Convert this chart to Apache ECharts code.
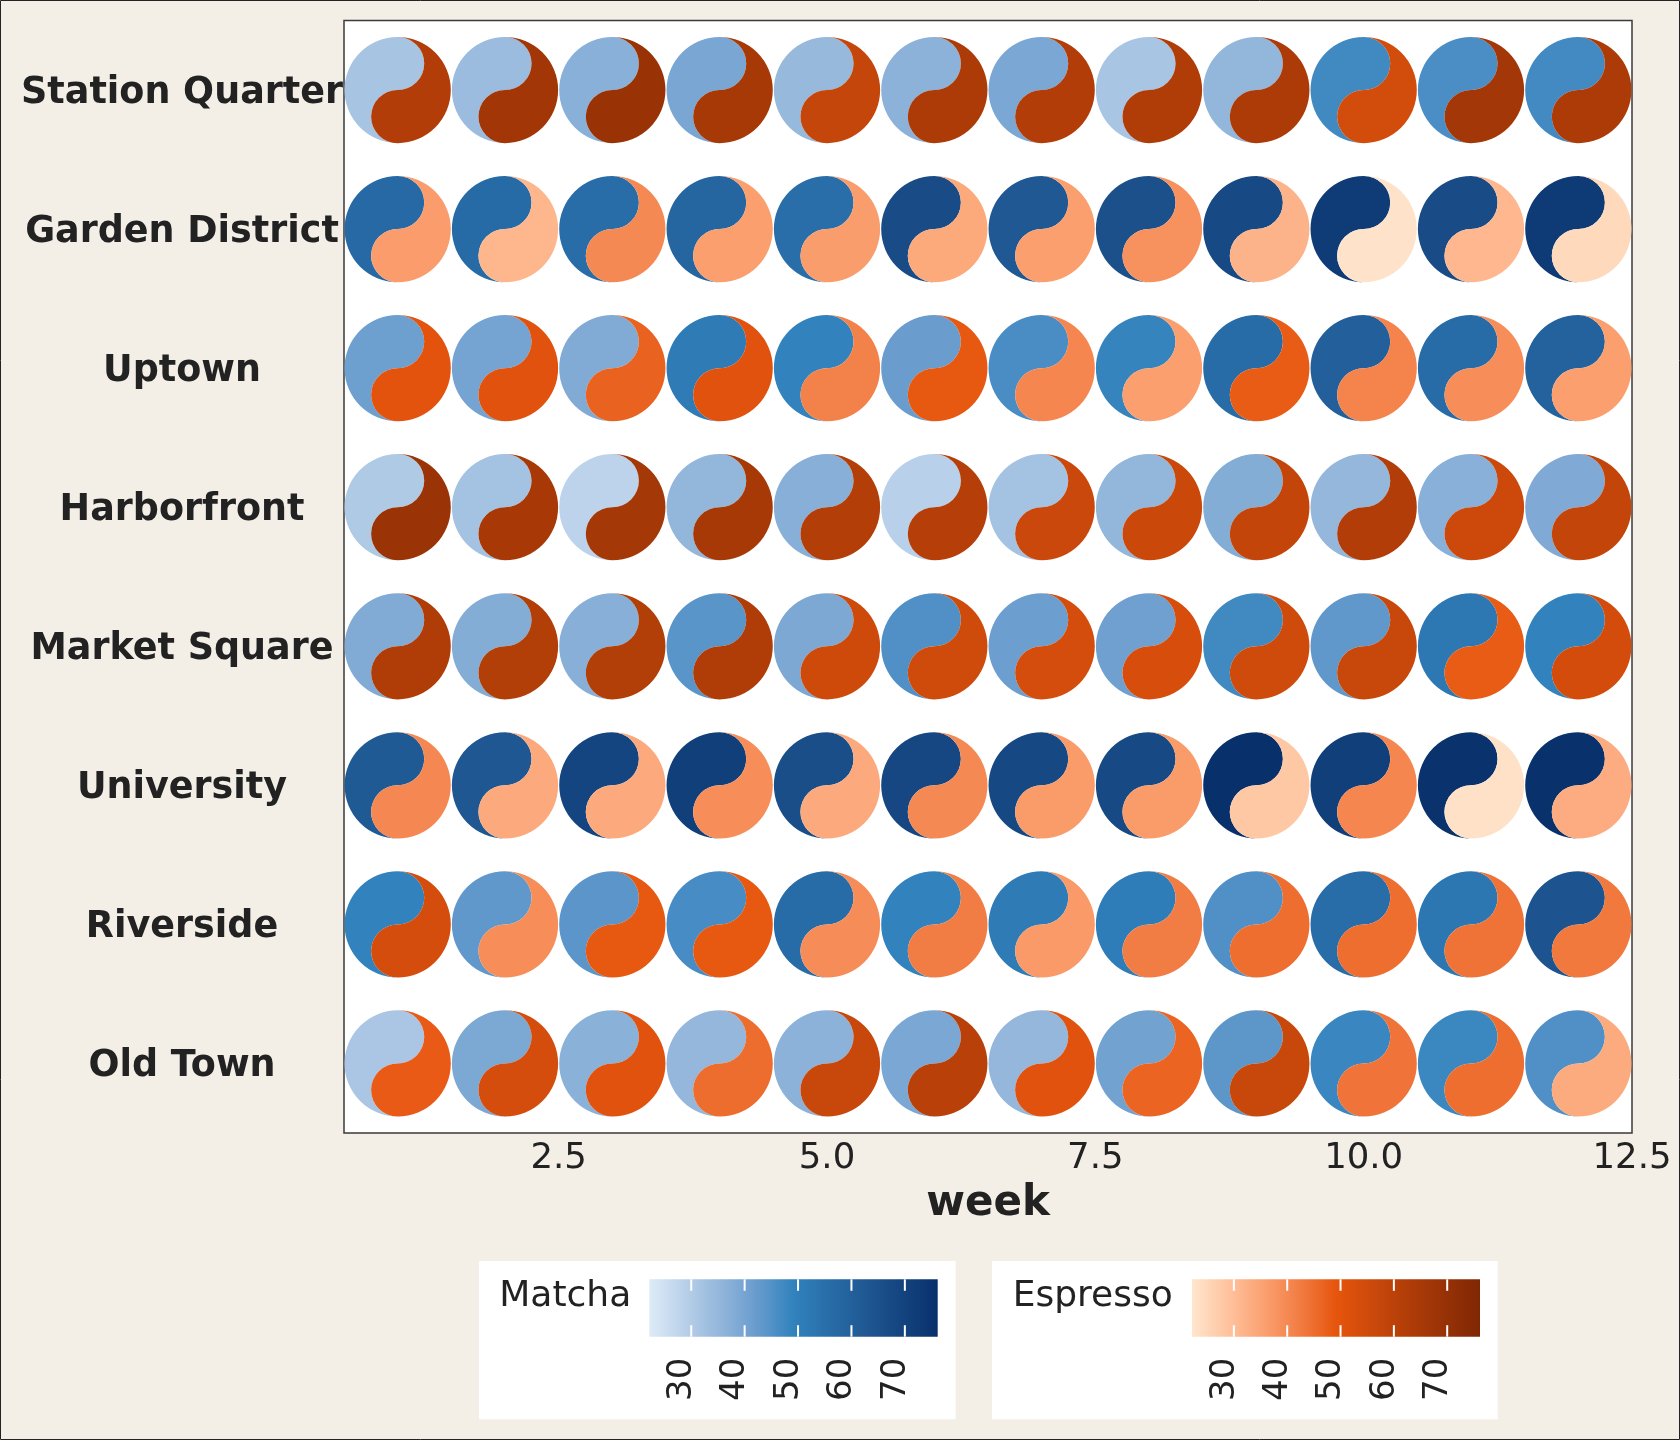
<!DOCTYPE html>
<html>
<head>
<meta charset="utf-8">
<script src="https://cdn.jsdelivr.net/npm/echarts@6/dist/echarts.min.js"></script>
<style>
html,body{margin:0;padding:0;background:#f3efe7;}
#c{width:1680px;height:1440px;}
</style>
</head>
<body>
<div id="c"></div>
<script>
// ---- data ----
const neighborhoods = ['Station Quarter','Garden District','Uptown','Harborfront','Market Square','University','Riverside','Old Town'];
const weeks = [1,2,3,4,5,6,7,8,9,10,11,12];
// Matcha value per neighborhood (rows) and week (columns)
const matcha = [
  [31.9,33.9,36.9,39.5,34.7,36.4,39.4,31.6,35.3,47.3,45.9,46.9],
  [57.1,56.4,55.8,58.4,55.5,66.6,62.7,65.3,67.6,72.2,66.6,72.9],
  [41.4,40.0,38.3,51.5,49.0,41.9,46.1,48.7,56.1,60.0,56.1,59.4],
  [30.5,32.3,28.1,35.3,37.2,28.9,32.3,35.3,37.8,35.2,36.9,38.4],
  [38.3,37.8,37.2,44.0,39.1,45.3,41.6,41.1,47.3,43.3,52.5,49.0],
  [62.0,63.0,69.2,71.2,66.0,68.3,68.0,67.6,76.0,71.2,75.2,75.7],
  [49.3,43.1,43.9,46.4,56.1,49.0,51.5,50.8,45.3,55.8,53.0,64.0],
  [31.3,39.0,36.7,35.2,36.3,39.4,35.2,40.6,43.6,48.0,47.9,45.3]
];
// Espresso value per neighborhood (rows) and week (columns)
const espresso = [
  [62.5,66.7,69.0,65.4,57.8,64.0,62.5,63.0,64.0,54.3,66.4,64.0],
  [36.4,31.4,40.0,35.9,36.2,34.0,35.9,38.3,32.0,22.7,31.2,24.7],
  [50.0,50.7,46.9,50.7,41.3,48.6,40.5,35.9,48.0,41.0,39.0,35.9],
  [68.8,65.2,65.9,65.4,62.2,61.4,56.4,56.2,57.9,62.5,56.0,57.9],
  [62.8,62.3,62.3,62.8,55.4,55.0,53.7,53.0,55.0,57.0,48.0,54.0],
  [40.2,33.8,33.8,39.0,33.8,40.0,36.6,36.6,27.9,40.5,23.2,33.3],
  [53.7,39.0,48.6,48.6,39.2,42.2,36.8,42.2,44.8,44.8,43.9,43.0],
  [48.2,53.7,50.7,45.0,57.0,60.6,50.7,46.5,57.0,43.7,44.8,33.6]
];
const xTicks = [2.5, 5, 7.5, 10, 12.5];
const legendTicks = [30, 40, 50, 60, 70];
const limits = [22.15, 76.15];
// low -> mid -> high gradients, evenly spaced stops (mid colour in the middle)
const blues = ['#deebf7', '#b8d0e9', '#91b5da', '#679bcd', '#3182bd', '#286da8', '#1f5893', '#14447f', '#08306b'];
const oranges = ['#fee6ce', '#ffc39e', '#fba070', '#f27c43', '#e6550d', '#cc490b', '#b13d08', '#983206', '#7f2704'];

const FONT = 'DejaVu Sans';
const TXT = '#222222';

function buildData(values) {
  const out = [];
  neighborhoods.forEach((n, r) => {
    weeks.forEach((w, i) => out.push([w, r, values[r][i]]));
  });
  return out;
}

function yinYang(side) {
  return function (params, api) {
    const c = api.coord([api.value(0), api.value(1)]);
    const r = api.size([1, 0])[0] * 0.495;
    const cx = c[0], cy = c[1], h = r / 2;
    const sweep = side === 'left' ? 0 : 1;
    const d = 'M' + cx + ',' + (cy - r) +
      ' A' + r + ',' + r + ' 0 0 ' + sweep + ' ' + cx + ',' + (cy + r) +
      ' A' + h + ',' + h + ' 0 0 1 ' + cx + ',' + cy +
      ' A' + h + ',' + h + ' 0 0 0 ' + cx + ',' + (cy - r) + ' Z';
    return { type: 'path', shape: { pathData: d }, style: { fill: api.visual('color') } };
  };
}

function colorbar(colors) {
  return function (params, api) {
    const p0 = api.coord([limits[0], 1]);
    const p1 = api.coord([limits[1], 0]);
    const stops = colors.map((c, i) => ({ offset: i / (colors.length - 1), color: c }));
    const children = [{
      type: 'rect',
      shape: { x: p0[0], y: p0[1], width: p1[0] - p0[0], height: p1[1] - p0[1] },
      style: { fill: new echarts.graphic.LinearGradient(0, 0, 1, 0, stops) }
    }];
    const th = (p1[1] - p0[1]) / 5;
    legendTicks.forEach(t => {
      const x = api.coord([t, 0])[0];
      children.push({ type: 'line', shape: { x1: x, y1: p0[1], x2: x, y2: p0[1] + th }, style: { stroke: '#ffffff', lineWidth: 2 } });
      children.push({ type: 'line', shape: { x1: x, y1: p1[1] - th, x2: x, y2: p1[1] }, style: { stroke: '#ffffff', lineWidth: 2 } });
    });
    return { type: 'group', children };
  };
}

function legendAxis(gridIndex) {
  return {
    gridIndex, type: 'value', min: limits[0], max: limits[1],
    axisLine: { show: false }, axisTick: { show: false }, splitLine: { show: false },
    axisLabel: {
      customValues: legendTicks, rotate: 90, margin: 21,
      fontSize: 34, color: TXT, fontFamily: FONT,
      verticalAlign: 'bottom', lineHeight: 18
    }
  };
}

const chart = echarts.init(document.getElementById('c'), null, { renderer: 'canvas' });
chart.setOption({
  backgroundColor: '#f3efe7',
  animation: false,
  textStyle: { fontFamily: FONT },
  grid: [
    { left: 344, top: 20.5, width: 1288, height: 1112.5, show: true, backgroundColor: '#ffffff', borderColor: '#3a3a3a', borderWidth: 1.5, outerBoundsMode: 'none' },
    { left: 649.3, top: 1279.3, width: 288.4, height: 57.4, outerBoundsMode: 'none' },
    { left: 1192, top: 1279.3, width: 288, height: 57.4, outerBoundsMode: 'none' }
  ],
  xAxis: [
    {
      gridIndex: 0, type: 'value', min: 0.5, max: 12.5,
      name: 'week', nameLocation: 'middle', nameGap: 50, nameMoveOverlap: false,
      nameTextStyle: { fontSize: 42, fontWeight: 'bold', color: TXT, fontFamily: FONT },
      axisLine: { show: false }, axisTick: { show: false }, splitLine: { show: false },
      axisLabel: {
        customValues: xTicks, margin: 8, fontSize: 35.5, color: TXT, fontFamily: FONT,
        formatter: v => Number(v).toFixed(1)
      }
    },
    legendAxis(1),
    legendAxis(2)
  ],
  yAxis: [
    {
      gridIndex: 0, type: 'category', data: neighborhoods, inverse: true,
      axisLine: { show: false }, axisTick: { show: false }, splitLine: { show: false },
      axisLabel: { fontSize: 36.5, fontWeight: 'bold', color: TXT, fontFamily: FONT, align: 'center', verticalAlign: 'top', lineHeight: 7, margin: 162 }
    },
    { gridIndex: 1, type: 'value', min: 0, max: 1, show: false },
    { gridIndex: 2, type: 'value', min: 0, max: 1, show: false }
  ],
  visualMap: [
    { type: 'continuous', show: false, seriesIndex: 0, dimension: 2, min: limits[0], max: limits[1], inRange: { color: blues } },
    { type: 'continuous', show: false, seriesIndex: 1, dimension: 2, min: limits[0], max: limits[1], inRange: { color: oranges } }
  ],
  series: [
    { name: 'Matcha', type: 'custom', xAxisIndex: 0, yAxisIndex: 0, renderItem: yinYang('left'), data: buildData(matcha), encode: { x: 0, y: 1 } },
    { name: 'Espresso', type: 'custom', xAxisIndex: 0, yAxisIndex: 0, renderItem: yinYang('right'), data: buildData(espresso), encode: { x: 0, y: 1 } },
    { type: 'custom', xAxisIndex: 1, yAxisIndex: 1, renderItem: colorbar(blues), data: [[limits[0], 0]], z: 5, silent: true },
    { type: 'custom', xAxisIndex: 2, yAxisIndex: 2, renderItem: colorbar(oranges), data: [[limits[0], 0]], z: 5, silent: true }
  ],
  graphic: [
    { type: 'rect', z: 0, silent: true, shape: { x: 479, y: 1261, width: 476.7, height: 158.3 }, style: { fill: '#ffffff' } },
    { type: 'rect', z: 0, silent: true, shape: { x: 992, y: 1261, width: 505.7, height: 158.3 }, style: { fill: '#ffffff' } },
    { type: 'text', z: 10, silent: true, x: 499.3, y: 1297, style: { text: 'Matcha', fontSize: 36, fontFamily: FONT, fill: TXT, verticalAlign: 'middle', align: 'left' } },
    { type: 'text', z: 10, silent: true, x: 1012.7, y: 1297, style: { text: 'Espresso', fontSize: 36, fontFamily: FONT, fill: TXT, verticalAlign: 'middle', align: 'left' } },
    { type: 'rect', z: 20, silent: true, shape: { x: 0.5, y: 0.5, width: 1679, height: 1439 }, style: { fill: 'none', stroke: '#222222', lineWidth: 1 } }
  ]
});
</script>
</body>
</html>
